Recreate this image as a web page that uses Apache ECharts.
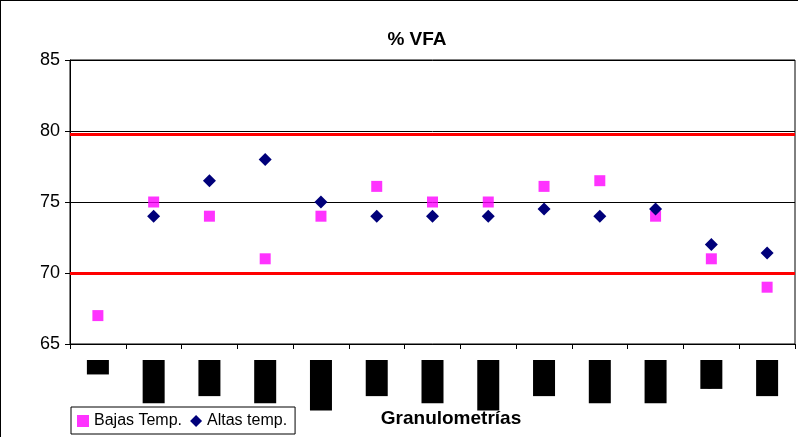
<!DOCTYPE html>
<html><head><meta charset="utf-8">
<script src="https://cdn.jsdelivr.net/npm/echarts@6/dist/echarts.min.js"></script>
<style>body{margin:0}#main{width:798px;height:437px;box-sizing:border-box;border-left:1px solid #000;border-top:1px solid #000}</style>
</head><body><div id="main"></div>
<script>
var categorias = ['G1', 'G2-abc', 'G3-ab', 'G4-abc', 'G5-abcd', 'G6-ab', 'G7-abc', 'G8-abcd', 'G9-ab', 'G10-ab', 'G11-ab', 'G12a', 'G13-a'];
var bajasTemp = [67, 75, 74, 71, 74, 76.1, 75, 75, 76.1, 76.5, 74, 71, 69];
var altasTemp = [null, 74, 76.5, 78, 75, 74, 74, 74, 74.5, 74, 74.5, 72, 71.4];
var limites = [79.8, 70];

var myChart = echarts.init(document.getElementById('main'));
var option = {
    animation: false,
    title: [{
        text: '% VFA', left: 411, top: 24, textAlign: 'center',
        textStyle: {fontFamily: 'Liberation Sans', fontSize: 19, fontWeight: 'bold', color: '#000'}
    }, {
        text: 'Granulometrías', left: 445, top: 403, textAlign: 'center',
        textStyle: {fontFamily: 'Liberation Sans', fontSize: 19, fontWeight: 'bold', color: '#000'}
    }],
    grid: {left: 69, right: 3, top: 59, bottom: 93, outerBoundsMode: 'none', containLabel: false,
        show: true, borderColor: '#000', borderWidth: 1},
    legend: {
        left: 70, top: 406, itemWidth: 12, itemHeight: 12, itemGap: 8,
        borderColor: '#000', borderWidth: 1, padding: [6, 8, 5, 6],
        textStyle: {fontFamily: 'Liberation Sans', fontSize: 16, color: '#000'},
        data: ['Bajas Temp.', 'Altas temp.']
    },
    xAxis: {
        type: 'category', data: categorias, boundaryGap: true,
        axisLine: {lineStyle: {color: '#000'}},
        axisTick: {show: true, length: 5, lineStyle: {color: '#000'}},
        axisLabel: {
            rotate: 90, margin: 16, interval: 0, color: '#000',
            backgroundColor: '#000', fontFamily: 'DejaVu Sans Mono', fontSize: 12, lineHeight: 22
        }
    },
    yAxis: {
        type: 'value', min: 65, max: 85, interval: 5,
        axisLine: {show: true, lineStyle: {color: '#000'}},
        axisTick: {show: true, length: 5, lineStyle: {color: '#000'}},
        axisLabel: {fontFamily: 'Liberation Sans', fontSize: 18, color: '#000', margin: 10},
        splitLine: {lineStyle: {color: '#000'}}
    },
    series: [{
        name: 'Bajas Temp.', type: 'scatter', symbol: 'rect', symbolSize: 11,
        itemStyle: {color: '#ff00ff'}, data: bajasTemp,
        markLine: {
            silent: true, symbol: 'none', label: {show: false},
            lineStyle: {color: '#ff0000', width: 3, type: 'solid'},
            data: limites.map(function (v) { return {yAxis: v}; })
        }
    }, {
        name: 'Altas temp.', type: 'scatter', symbol: 'diamond', symbolSize: 13,
        itemStyle: {color: '#00007a', opacity: 1}, data: altasTemp
    }]
};
myChart.setOption(option);
</script></body></html>
